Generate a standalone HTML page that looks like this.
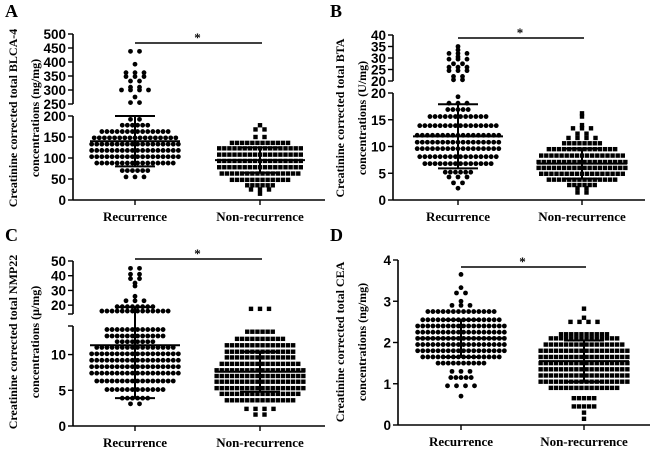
<!DOCTYPE html>
<html><head><meta charset="utf-8">
<style>
html,body{margin:0;padding:0;background:#fff;}
svg{display:block;}
.tick{font-family:"Liberation Sans",sans-serif;font-weight:bold;font-size:13.5px;fill:#000;}
.ttl{font-family:"Liberation Serif",serif;font-weight:bold;font-size:12px;fill:#000;}
.cat{font-family:"Liberation Serif",serif;font-weight:bold;font-size:13px;fill:#000;}
.let{font-family:"Liberation Serif",serif;font-weight:bold;font-size:18px;fill:#000;}
</style></head>
<body>
<svg id="chart" width="651" height="449" viewBox="0 0 651 449" xmlns="http://www.w3.org/2000/svg"></svg>
<script>
// ---- data (row value : count of dots in that row) ----
const categories = ["Recurrence","Non-recurrence"];
const aRecVals = [55,70,88,103,118,133,148,163,178,192,255,275,300,310,332,348,362,392,438];
const aRecCnts = [3,6,16,18,18,18,17,14,6,2,2,1,4,2,2,3,3,1,2];
const aNonVals = [15,25,35,48,63,78,93,108,123,136,150,168,178];
const aNonCnts = [1,3,6,12,16,17,17,17,17,12,2,2,1];
const bRecVals = [2.2,3.2,4.3,5.2,6.8,8.1,9.6,10.8,12.1,13.9,15.6,16.9,18.1,19.3,20.5,22,24.5,26,27.5,29.5,30.5,32,33.5,35];
const bRecCnts = [1,2,3,6,14,16,17,17,17,16,12,5,3,1,2,2,3,3,2,3,1,3,1,1];
const bNonVals = [1.4,2.2,2.8,3.8,4.9,6,7.1,8.3,9.5,10.6,11.6,12.4,13.4,14,15.6,16.2];
const bNonCnts = [2,2,6,14,17,18,18,17,14,8,4,2,3,1,1,1];
const cRecVals = [3.1,3.9,5.1,6.3,7.4,8.3,9.2,10.1,11,11.8,12.6,13.5,16,19,23,26,33,35,38,41,45];
const cRecCnts = [2,6,12,16,18,18,18,18,16,8,12,12,14,8,3,1,1,1,2,2,2];
const cNonVals = [1.6,2.4,3.6,4.5,5.3,6.2,7,7.8,8.7,9.6,10.4,11.3,12.2,13.2,17.5];
const cNonCnts = [2,4,14,16,18,18,18,18,16,14,14,14,10,6,3];
const dRecVals = [0.7,0.95,1.15,1.3,1.5,1.65,1.8,1.95,2.1,2.25,2.4,2.55,2.75,2.9,3.0,3.2,3.33,3.65];
const dRecCnts = [1,4,5,3,10,16,18,18,18,18,18,16,14,3,1,2,1,1];
const dNonVals = [0.15,0.3,0.45,0.65,0.9,1.05,1.2,1.35,1.5,1.65,1.8,1.95,2.1,2.2,2.5,2.6,2.82];
const dNonCnts = [1,1,5,5,14,18,18,18,18,18,18,16,14,10,4,1,1];
const means = [[140,95],[11.9,6.8],[11.3,7.6],[2.1,1.55]];
const sds = [[60,30],[6,2.8],[7.4,2.8],[0.45,0.5]];
const tickSetsLow = [[0,50,100,150,200],[0,5,10,15,20],[0,5,10],[0,1,2,3,4]];
const tickSetsHigh = [[250,300,350,400,450,500],[20,25,30,35,40],[20,30,40,50],[]];
const letters = ["A","B","C","D"];
const titles1 = ["Creatinine corrected total BLCA-4","Creatinine corrected total BTA","Creatinine corrected total NMP22","Creatinine corrected total CEA"];
const titles2 = ["concentrations (ng/mg)","concentrations (U/mg)","concentrations (\u03bc/mg)","concentrations (ng/mg)"];

// ---- layout ----
const panels = [
 {ox:0, ax:73, xr:325, c:[135,260], bar:43, segs:[{d0:0,d1:200,p0:200,p1:116},{d0:250,d1:500,p0:104,p1:34}], tx:[13,35], ty:118, data:[[aRecVals,aRecCnts],[aNonVals,aNonCnts]]},
 {ox:325, ax:393, xr:645, c:[458,582], bar:38, segs:[{d0:0,d1:20,p0:200,p1:93},{d0:20,d1:40,p0:81,p1:35}], tx:[340,362], ty:118, data:[[bRecVals,bRecCnts],[bNonVals,bNonCnts]]},
 {ox:0, ax:73, xr:325, c:[135,260], bar:259, segs:[{d0:0,d1:14,p0:426,p1:326},{d0:14,d1:50,p0:314,p1:261}], tx:[13,35], ty:342, data:[[cRecVals,cRecCnts],[cNonVals,cNonCnts]]},
 {ox:325, ax:398, xr:650, c:[461,584], bar:267, segs:[{d0:0,d1:4,p0:425,p1:260}], tx:[340,362], ty:342, data:[[dRecVals,dRecCnts],[dNonVals,dNonCnts]]}
];
const svg = document.getElementById('chart');
const NS = "http://www.w3.org/2000/svg";
function mk(tag, attrs, parent){const e=document.createElementNS(NS,tag);for(const k in attrs)e.setAttribute(k,attrs[k]);(parent||svg).appendChild(e);return e;}
function yScale(p, v){
  const s = p.segs;
  for(let i=s.length-1;i>=0;i--){ if(v>=s[i].d0 || i===0){ const g=s[i]; return g.p0+(v-g.d0)/(g.d1-g.d0)*(g.p1-g.p0);} }
}

panels.forEach((p,pi)=>{
  const g = mk('g',{});
  
  
  const L = mk('text',{x:p.ox+5,y:pi<2?17:241,class:'let'},g);
  L.textContent = letters[pi];
  
  
  p.segs.forEach((s,si)=>{
    const ax = mk('line',{x1:p.ax,x2:p.ax,y1:s.p0,y2:s.p1,stroke:'#000','stroke-width':1.6},g);
    
    
    const ticks = si===0 ? tickSetsLow[pi] : tickSetsHigh[pi];
    [s.d0,s.d1].forEach(v=>{ if(ticks.indexOf(v)<0){ const y=yScale({segs:[s]},v); mk('line',{x1:p.ax-5,x2:p.ax,y1:y,y2:y,stroke:'#000','stroke-width':1.4},g);} });
    ticks.forEach(v=>{
      const y = yScale({segs:[s]},v);
      mk('line',{x1:p.ax-5,x2:p.ax,y1:y,y2:y,stroke:'#000','stroke-width':1.4},g);
      const t = mk('text',{x:p.ax-7,y:y+5,'text-anchor':'end',class:'tick'},g);
      t.textContent = v;
      
      
    });
  });
  const y0 = p.segs[0].p0;
  const xa = mk('line',{x1:p.ax,x2:p.xr,y1:y0,y2:y0,stroke:'#000','stroke-width':1.6},g);
  
  
  p.c.forEach((cx,ci)=>{
    mk('line',{x1:cx,x2:cx,y1:y0,y2:y0+5,stroke:'#000','stroke-width':1.4},g);
    const t = mk('text',{x:cx,y:y0+21,'text-anchor':'middle',class:'cat'},g);
    t.textContent = categories[ci];
    
    
  });
  [0,1].forEach(k=>{
    const t = mk('text',{x:p.tx[k],y:p.ty,'text-anchor':'middle',class:'ttl',transform:`rotate(-90 ${p.tx[k]} ${p.ty})`,dy:'0.35em'},g);
    t.textContent = k===0?titles1[pi]:titles2[pi];
    
    
  });
  p.data.forEach((d,gi)=>{
    const vals=d[0], cnts=d[1], cx=p.c[gi];
    vals.forEach((v,ri)=>{
      const n=cnts[ri], y=yScale(p,v);
      const sp = n<=4 ? 9 : 5.1;
      for(let i=0;i<n;i++){
        const x = cx + (i-(n-1)/2)*sp;
        let m;
        if(gi===0){ m = mk('circle',{cx:x,cy:y,r:2.4,fill:'#000'},g); }
        else { m = mk('rect',{x:x-2.2,y:y-2.2,width:4.4,height:4.4,fill:'#000'},g); }
        
        
      }
    });
    const mY=yScale(p,means[pi][gi]), hi=yScale(p,means[pi][gi]+sds[pi][gi]), lo=yScale(p,Math.max(0,means[pi][gi]-sds[pi][gi]));
    const e1=mk('line',{x1:cx,x2:cx,y1:hi,y2:lo,stroke:'#000','stroke-width':2},g);
    
    
    mk('line',{x1:cx-20,x2:cx+20,y1:hi,y2:hi,stroke:'#000','stroke-width':2},g);
    mk('line',{x1:cx-20,x2:cx+20,y1:lo,y2:lo,stroke:'#000','stroke-width':2},g);
    const mm=mk('line',{x1:cx-45,x2:cx+45,y1:mY,y2:mY,stroke:'#000','stroke-width':2},g);
    
    
  });
  const br = mk('line',{x1:p.c[0],x2:p.c[1]+2,y1:p.bar,y2:p.bar,stroke:'#000','stroke-width':1.4},g);
  
  
  const st = mk('text',{x:(p.c[0]+p.c[1])/2,y:p.bar-1,'text-anchor':'middle',class:'cat'},g);
  st.textContent='*';
  
  
});
</script>
</body></html>
